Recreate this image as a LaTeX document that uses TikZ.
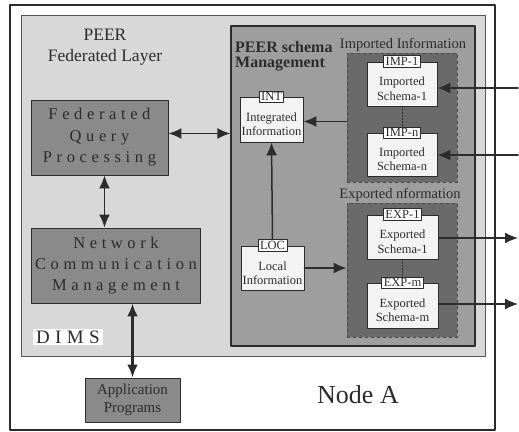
\documentclass[tikz,border=0pt]{standalone}
\usepackage{fontspec}
\setmainfont{Liberation Serif}
\newfontfamily\spacedfont[LetterSpace=28]{Liberation Serif}
\usetikzlibrary{arrows.meta}
\definecolor{dimsgrey}{HTML}{D8D8D8}
\definecolor{peergrey}{HTML}{9E9E9E}
\definecolor{groupgrey}{HTML}{6A6A6A}
\definecolor{procgrey}{HTML}{8A8A8A}
\definecolor{paper}{HTML}{F3F3F3}
\definecolor{ink}{HTML}{2C2C2C}

\begin{document}
\begin{tikzpicture}[x=1pt,y=-1pt,line cap=round,line join=round,
  procbox/.style={draw=ink,line width=0.9pt,fill=procgrey,text=ink,align=center},
  infobox/.style={draw=ink,line width=0.9pt,fill=paper,text=ink,align=center,
    font=\fontsize{12.5}{14.5}\selectfont,inner sep=0pt},
  tabbox/.style={draw=ink,line width=0.9pt,fill=white,text=ink,inner xsep=2pt,
    inner ysep=1.5pt,font=\fontsize{12.5}{13}\selectfont},
  groupbox/.style={draw=ink!85,dashed,line width=0.9pt,fill=groupgrey,inner sep=0pt},
  caption/.style={text=ink,inner sep=0pt},
  link/.style={draw=ink,line width=1.8pt,{Latex[length=13pt,width=11pt]}-{Latex[length=13pt,width=11pt]}},
  feed/.style={draw=ink,line width=1.5pt,-{Latex[length=13pt,width=11pt]}},
  dotlink/.style={draw=ink,line width=1pt,dotted}]
  \useasboundingbox (0,0) rectangle (519,431);
  \draw[ink,line width=1.4pt,fill=white] (10,5) rectangle (495,430);
  \draw[ink!80,line width=1pt,fill=dimsgrey] (21,15) rectangle (485,356);

  \node[caption,align=center,font=\fontsize{17.5}{21}\selectfont] (layer) at (105,47) {PEER\\Federated Layer};
  \node[procbox,minimum width=137pt,minimum height=75pt,
    font=\spacedfont\fontsize{16.5}{21.5}\selectfont] (fqp) at (99.5,137.5) {Federated\\Query\\Processing};
  \node[procbox,minimum width=168pt,minimum height=75pt,
    font=\spacedfont\fontsize{16.5}{21}\selectfont] (ncm) at (116,265.5) {Network\\Communication\\Management};
  \node[caption,fill=white,anchor=west,inner xsep=3pt,inner ysep=2pt,
    font=\spacedfont\fontsize{19}{20}\selectfont] (dims) at (33,337) {DIMS};
  \node[procbox,minimum width=95pt,minimum height=44pt,
    font=\fontsize{15}{18}\selectfont] (app) at (132.5,400) {Application\\Programs};
  \node[caption,font=\fontsize{26}{28}\selectfont] (nodeA) at (358,395) {Node A};

  \node[draw=ink,line width=1.2pt,fill=peergrey,minimum width=244pt,minimum height=320pt,
    inner sep=0pt] (peer) at (353,186) {};
  \node[caption,anchor=north west,align=left,font=\bfseries\fontsize{16}{15}\selectfont]
    (peertitle) at (235,41) {PEER schema\\Management};

  \node[caption,font=\fontsize{14.5}{15}\selectfont] (imptitle) at (403,45) {Imported Information};
  \node[groupbox,minimum width=110pt,minimum height=129pt] (impgrp) at (402,117.5) {};
  \node[infobox,minimum width=70pt,minimum height=44pt] (imp1) at (402,84) {\rule{0pt}{18pt}Imported\\Schema-1};
  \node[tabbox] (imp1tab) at (imp1.north) {IMP-1};
  \node[infobox,minimum width=70pt,minimum height=43pt] (impn) at (402,154.5) {\rule{0pt}{18pt}Imported\\Schema-n};
  \node[tabbox] (impntab) at (impn.north) {IMP-n};
  \draw[dotlink] (imp1.south) -- (impntab.north);

  \node[caption,font=\fontsize{14.5}{15}\selectfont] (exptitle) at (400,195) {Exported nformation};
  \node[groupbox,minimum width=110pt,minimum height=134pt] (expgrp) at (402,270) {};
  \node[infobox,minimum width=71pt,minimum height=44pt] (exp1) at (402.5,237) {\rule{0pt}{18pt}Exported\\Schema-1};
  \node[tabbox] (exp1tab) at (exp1.north) {EXP-1};
  \node[infobox,minimum width=71pt,minimum height=45pt] (expm) at (402.5,305.5) {\rule{0pt}{18pt}Exported\\Schema-m};
  \node[tabbox] (expmtab) at (expm.north) {EXP-m};
  \draw[dotlink] (exp1.south) -- (expmtab.north);

  \node[infobox,minimum width=63pt,minimum height=45pt] (int) at (271.5,119.5) {\rule{0pt}{18pt}Integrated\\Information};
  \node[tabbox] (inttab) at (int.north) {INT};
  \node[infobox,minimum width=63pt,minimum height=44pt] (loc) at (272.5,268) {\rule{0pt}{19pt}Local\\Information};
  \node[tabbox] (loctab) at (loc.north) {LOC};

  \coordinate (in1) at (518,88);
  \coordinate (inn) at (518,155);
  \coordinate (out1) at (518,238);
  \coordinate (outm) at (518,304);

  \draw[link] ([yshift=4pt]fqp.east) -- ([yshift=4pt]fqp.east -| peer.west);
  \draw[link] ([xshift=5pt]fqp.south) -- ([xshift=5pt]fqp.south |- ncm.north);
  \draw[link,line width=2.6pt] (app.north |- ncm.south) -- (app.north);
  \draw[feed] ([yshift=-4pt]impgrp.west) -- ([yshift=-4pt]impgrp.west -| int.east);
  \draw[feed] (loctab.north) -- (int.south);
  \draw[feed] (loc.east) -- (loc.east -| expgrp.west);
  \draw[feed] (in1) -- (in1 -| imp1.east);
  \draw[feed] (inn) -- (inn -| impn.east);
  \draw[feed] (out1 -| exp1.east) -- (out1);
  \draw[feed] (outm -| expm.east) -- (outm);
\end{tikzpicture}
\end{document}
